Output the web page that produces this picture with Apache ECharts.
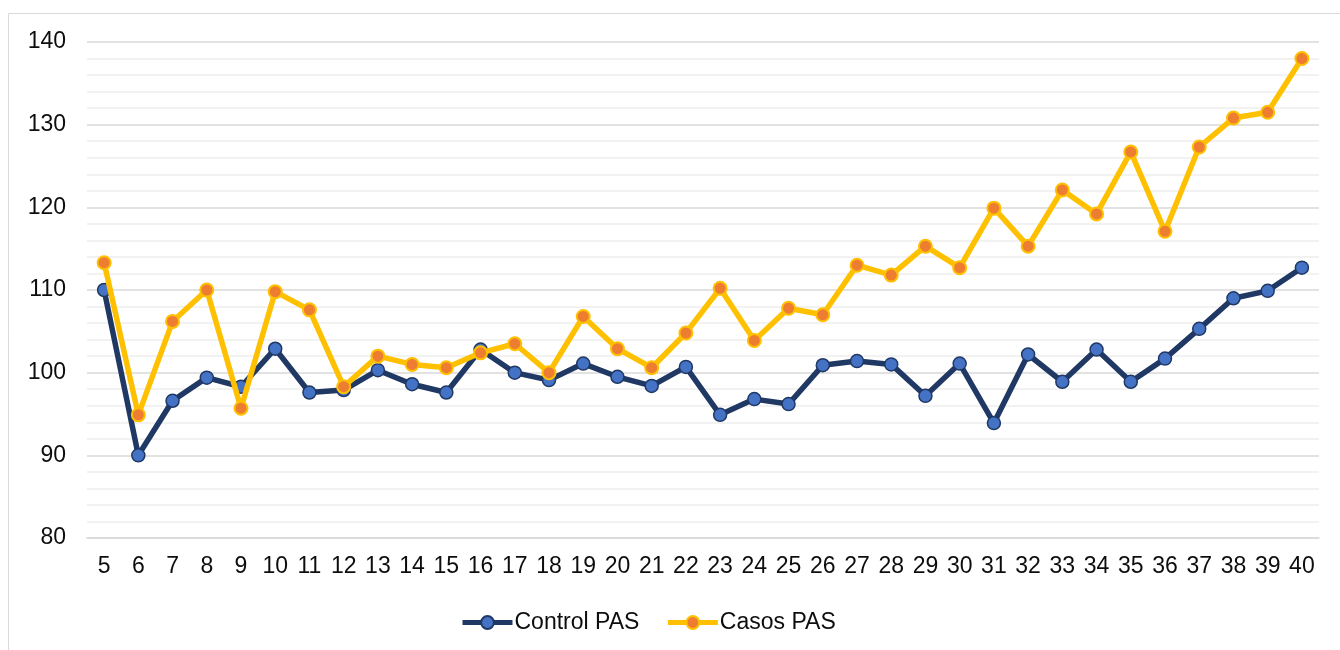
<!DOCTYPE html>
<html>
<head>
<meta charset="utf-8">
<script src="https://cdn.jsdelivr.net/npm/echarts@6/dist/echarts.min.js"></script>
<style>
  html, body { margin: 0; padding: 0; background: #fff; }
  #chart { width: 1340px; height: 650px; }
</style>
</head>
<body>
<div id="chart"></div>
<script>
var weeks = ['5','6','7','8','9','10','11','12','13','14','15','16','17','18','19','20','21','22',
  '23','24','25','26','27','28','29','30','31','32','33','34','35','36','37','38','39','40'];

var controlPAS = [110.0, 90.0, 96.6, 99.4, 98.3, 102.9, 97.6, 97.9, 100.3, 98.6, 97.6, 102.8,
  100.0, 99.1, 101.1, 99.5, 98.4, 100.7, 94.9, 96.8, 96.2, 100.9, 101.4, 101.0,
  97.2, 101.1, 93.9, 102.2, 98.9, 102.8, 98.9, 101.7, 105.3, 109.0, 109.9, 112.7];

var casosPAS = [113.3, 94.9, 106.2, 110.0, 95.7, 109.8, 107.6, 98.3, 102.0, 101.0, 100.6, 102.4,
  103.5, 100.0, 106.8, 102.9, 100.6, 104.8, 110.2, 103.9, 107.8, 107.0, 113.0, 111.8,
  115.3, 112.7, 119.9, 115.3, 122.1, 119.2, 126.7, 117.1, 127.3, 130.8, 131.5, 138.0];

var seriesNames = ['Control PAS', 'Casos PAS'];

var myChart = echarts.init(document.getElementById('chart'));

var txt = '#0d0d0d';
var font = 'Arial, "Liberation Sans", sans-serif';

var option = {
  animation: false,
  textStyle: { fontFamily: font },
  graphic: [{
    type: 'rect',
    shape: { x: 8.5, y: 13.5, width: 1400, height: 700 },
    style: { fill: 'none', stroke: '#d9d9d9', lineWidth: 1 },
    silent: true
  }],
  grid: { left: 87, right: 21, top: 42, bottom: 112, containLabel: false },
  legend: {
    data: seriesNames,
    top: 606,
    left: 455,
    itemWidth: 50,
    itemHeight: 16,
    itemGap: 26,
    lineStyle: { width: 5 },
    textStyle: { fontSize: 23, color: txt, fontFamily: font, padding: [0, 0, 0, -3] }
  },
  xAxis: {
    type: 'category',
    data: weeks,
    boundaryGap: true,
    axisLine: { lineStyle: { color: '#d9d9d9', width: 1.5 } },
    axisTick: { show: false },
    axisLabel: { fontSize: 23, color: txt, margin: 17, interval: 0, fontFamily: font }
  },
  yAxis: {
    type: 'value',
    min: 80,
    max: 140,
    interval: 10,
    axisLine: { show: false },
    axisTick: { show: false },
    axisLabel: { fontSize: 23, color: txt, margin: 21, fontFamily: font },
    splitLine: { lineStyle: { color: '#d9d9d9', width: 1.5 } },
    minorTick: { show: false, splitNumber: 5 },
    minorSplitLine: { show: true, lineStyle: { color: '#eeeeee', width: 1.5 } }
  },
  series: [{
    name: seriesNames[0],
    type: 'line',
    data: controlPAS,
    symbol: 'circle',
    symbolSize: 13,
    lineStyle: { color: '#203864', width: 5.5 },
    itemStyle: { color: '#4472C4', borderColor: '#203864', borderWidth: 1.5 },
    z: 2
  }, {
    name: seriesNames[1],
    type: 'line',
    data: casosPAS,
    symbol: 'circle',
    symbolSize: 13,
    lineStyle: { color: '#FFC000', width: 5.5 },
    itemStyle: { color: '#ED7D31', borderColor: '#FFC000', borderWidth: 2 },
    z: 3
  }]
};

myChart.setOption(option, true);
</script>
</body>
</html>
